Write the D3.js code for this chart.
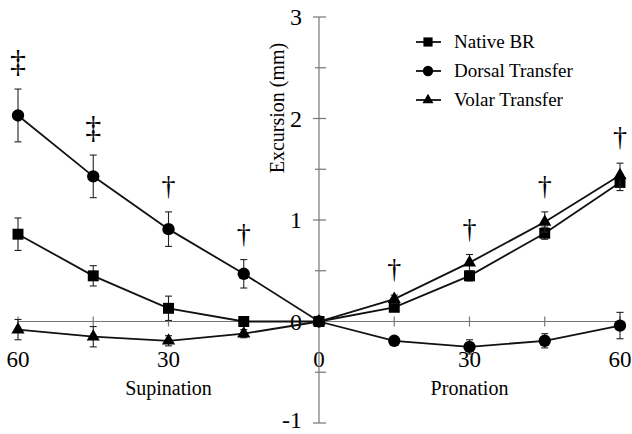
<!DOCTYPE html>
<html>
<script src='https://d3js.org/d3.v7.min.js'></script>
<body style="margin:0;background:#fff">
<svg width="632" height="434"></svg>
<script>

// forearm rotation in degrees (negative = supination)
var angles = [-60, -45, -30, -15, 0, 15, 30, 45, 60];

var nativeBR  = [0.86, 0.45, 0.13, 0.00, 0, 0.14, 0.45, 0.87, 1.37];
var nativeErr = [0.16, 0.10, 0.12, 0.02, 0, 0.03, 0.05, 0.06, 0.08];

var dorsal    = [2.03, 1.43, 0.91, 0.47, 0, -0.19, -0.25, -0.19, -0.04];
var dorsalErr = [0.26, 0.21, 0.17, 0.14, 0, 0.03, 0.07, 0.07, 0.13];

var volar     = [-0.08, -0.15, -0.19, -0.12, 0, 0.22, 0.58, 0.98, 1.44];
var volarErr  = [0.10, 0.10, 0.05, 0.04, 0, 0.04, 0.08, 0.10, 0.12];

var sigMarks = ["\u2021", "\u2021", "\u2020", "\u2020", "", "\u2020", "\u2020", "\u2020", "\u2020"];

var xTicks = [-60, -30, 0, 30, 60];
var yTicks = [-1, 0, 1, 2, 3];

var svg = d3.select("svg")
    .style("font-family", "'Liberation Serif', 'DejaVu Serif', serif");

var xScale = d3.scaleLinear().domain([-60, 60]).range([18, 620]);
var yScale = d3.scaleLinear().domain([-1, 3]).range([423, 17]);

var axisColor = "#777";

// x axis line + ticks (every 15 deg, crossing)
svg.append("line")
    .attr("x1", xScale(-60)).attr("x2", xScale(60))
    .attr("y1", yScale(0)).attr("y2", yScale(0))
    .style("stroke", axisColor).style("stroke-width", 1.2);

svg.append("g").selectAll("line")
    .data(d3.range(-60, 61, 15))
    .enter().append("line")
    .attr("x1", function(d) { return xScale(d); })
    .attr("x2", function(d) { return xScale(d); })
    .attr("y1", yScale(0) - 5).attr("y2", yScale(0) + 5)
    .style("stroke", axisColor).style("stroke-width", 1.2);

svg.append("g").selectAll("text")
    .data(xTicks)
    .enter().append("text")
    .attr("x", function(d) { return xScale(d); })
    .attr("y", yScale(0) + 45)
    .attr("text-anchor", "middle")
    .style("font-size", "23px")
    .text(function(d) { return Math.abs(d); });

// y axis line + ticks
svg.append("line")
    .attr("x1", xScale(0)).attr("x2", xScale(0))
    .attr("y1", yScale(3)).attr("y2", yScale(-1))
    .style("stroke", axisColor).style("stroke-width", 1.2);

svg.append("g").selectAll("line")
    .data(d3.range(-1, 3.01, 0.5))
    .enter().append("line")
    .attr("x1", function(d) { return xScale(0) - (d % 1 === 0 ? 6 : 4); })
    .attr("x2", xScale(0) + 7)
    .attr("y1", function(d) { return yScale(d); })
    .attr("y2", function(d) { return yScale(d); })
    .style("stroke", axisColor).style("stroke-width", 1.2);

svg.append("g").selectAll("text")
    .data(yTicks)
    .enter().append("text")
    .attr("x", xScale(0) - 17)
    .attr("y", function(d) { return Math.min(yScale(d) + 8, 428); })
    .attr("text-anchor", "end")
    .style("font-size", "24px")
    .text(function(d) { return d; });

// axis titles
svg.append("text")
    .attr("text-anchor", "middle")
    .attr("transform", "translate(284,108)rotate(-90)")
    .style("font-size", "20px")
    .text("Excursion (mm)");

svg.append("text")
    .attr("x", xScale(-30)).attr("y", 395)
    .attr("text-anchor", "middle")
    .style("font-size", "20px")
    .text("Supination");

svg.append("text")
    .attr("x", xScale(30)).attr("y", 395)
    .attr("text-anchor", "middle")
    .style("font-size", "20px")
    .text("Pronation");

// series
var series = [
    { name: "Native BR", values: nativeBR, err: nativeErr, symbol: d3.symbolSquare, size: 120 },
    { name: "Dorsal Transfer", values: dorsal, err: dorsalErr, symbol: d3.symbolCircle, size: 120 },
    { name: "Volar Transfer", values: volar, err: volarErr, symbol: d3.symbolTriangle, size: 75 }
];

var line = d3.line()
    .x(function(d) { return xScale(d[0]); })
    .y(function(d) { return yScale(d[1]); });

series.forEach(function(s) {
    var pts = angles.map(function(a, i) { return [a, s.values[i], s.err[i]]; });

    // error bars
    var eb = svg.append("g").selectAll("g")
        .data(pts.filter(function(d) { return d[2] > 0; }))
        .enter().append("g")
        .style("stroke", "#222").style("stroke-width", 1.1);
    eb.append("line")
        .attr("x1", function(d) { return xScale(d[0]); })
        .attr("x2", function(d) { return xScale(d[0]); })
        .attr("y1", function(d) { return yScale(d[1] + d[2]); })
        .attr("y2", function(d) { return yScale(d[1] - d[2]); });
    [1, -1].forEach(function(sign) {
        eb.append("line")
            .attr("x1", function(d) { return xScale(d[0]) - 3.5; })
            .attr("x2", function(d) { return xScale(d[0]) + 3.5; })
            .attr("y1", function(d) { return yScale(d[1] + sign * d[2]); })
            .attr("y2", function(d) { return yScale(d[1] + sign * d[2]); });
    });

    svg.append("path")
        .datum(pts)
        .attr("d", line)
        .style("fill", "none")
        .style("stroke", "#111")
        .style("stroke-width", 1.8);

    svg.append("g").selectAll("path")
        .data(pts)
        .enter().append("path")
        .attr("d", d3.symbol().type(s.symbol).size(s.size))
        .attr("transform", function(d) { return "translate(" + xScale(d[0]) + "," + yScale(d[1]) + ")"; })
        .style("fill", "#000");
});

// significance marks above highest error bar at each angle
svg.append("g").selectAll("text")
    .data(angles)
    .enter().append("text")
    .attr("x", function(d) { return xScale(d); })
    .attr("y", function(d, i) {
        var top = d3.max(series, function(s) { return s.values[i] + s.err[i]; });
        return yScale(top) - 17;
    })
    .attr("text-anchor", "middle")
    .style("font-size", function(d, i) { return sigMarks[i] === "\u2021" ? "32px" : "28px"; })
    .text(function(d, i) { return sigMarks[i]; });

// legend
var legend = svg.selectAll(".lineLegend").data(series)
    .enter().append("g")
    .attr("class", "lineLegend")
    .attr("transform", function(d, i) { return "translate(428," + (42 + i * 29) + ")"; });

legend.append("line")
    .attr("x1", -12).attr("x2", 13)
    .style("stroke", "#111").style("stroke-width", 1.8);

legend.append("path")
    .attr("d", function(d) { return d3.symbol().type(d.symbol).size(d.size * 0.7)(); })
    .style("fill", "#000");

legend.append("text")
    .attr("x", 26).attr("y", 6)
    .style("font-size", "19px")
    .text(function(d) { return d.name; });

</script>
</body>
</html>
